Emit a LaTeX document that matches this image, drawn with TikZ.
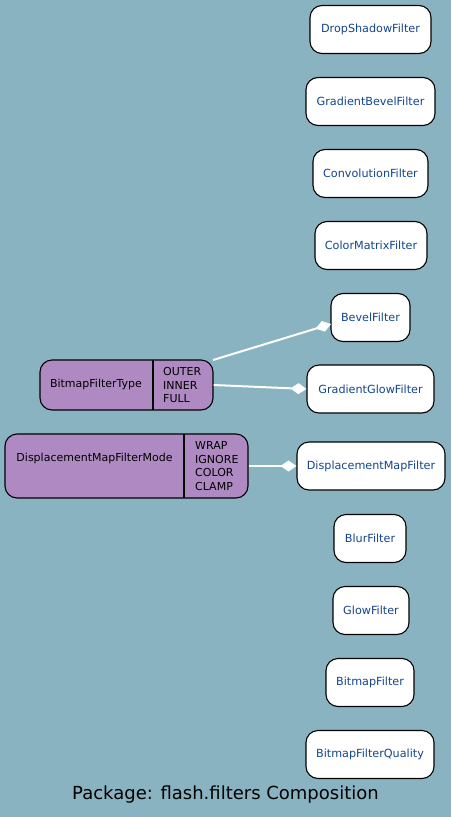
\documentclass[tikz,border=0pt]{standalone}
\usepackage{fontspec}
\setmainfont{DejaVu Sans}
\usetikzlibrary{arrows.meta}
\definecolor{bg}{RGB}{138,179,193}
\definecolor{purp}{RGB}{175,138,194}
\definecolor{lbl}{RGB}{20,70,140}
\tikzset{
  cls/.style={draw=black, line width=1.1pt, fill=white, rounded corners=12pt, minimum height=48pt, inner sep=0pt, text=lbl, font=\fontsize{11.2}{13}\selectfont},
  enm/.style={draw=black, line width=1.1pt, fill=purp, rounded corners=12pt, inner sep=0pt},
  etxt/.style={font=\fontsize{11}{13.5}\selectfont, text=black, align=left, inner sep=0pt},
  comp/.style={draw=white, line width=2pt, -{Diamond[length=16pt,width=11pt,fill=white]}},
}
\begin{document}
\begin{tikzpicture}[x=1pt,y=-1pt]
\fill[bg] (0,0) rectangle (451,817);
\useasboundingbox (0,0) rectangle (451,817);
\node[cls, minimum width=121pt] (dsf) at (370.5,29.5) {DropShadowFilter};
\node[cls, minimum width=129pt] (gbf) at (370.5,101.5) {GradientBevelFilter};
\node[cls, minimum width=115pt] (cf) at (370.5,173.5) {ConvolutionFilter};
\node[cls, minimum width=112pt] (cmf) at (371,245.5) {ColorMatrixFilter};
\node[cls, minimum width=79pt] (bf) at (370.5,317.5) {BevelFilter};
\node[cls, minimum width=127pt] (ggf) at (370.5,389) {GradientGlowFilter};
\node[cls, minimum width=148pt] (dmf) at (371,466) {DisplacementMapFilter};
\node[cls, minimum width=72pt] (blf) at (370,538.5) {BlurFilter};
\node[cls, minimum width=76pt] (glf) at (371,610.5) {GlowFilter};
\node[cls, minimum width=88pt] (bmf) at (370,682.5) {BitmapFilter};
\node[cls, minimum width=128pt] (bfq) at (370,754.5) {BitmapFilterQuality};
% BitmapFilterType
\node[enm, minimum width=173pt, minimum height=50pt] (bft) at (126.5,385) {};
\draw[line width=1.1pt] (153,360) -- (153,410);
\node[etxt, anchor=center] (bftn) at (96,384) {BitmapFilterType};
\node[etxt, anchor=west] (bftv) at (163,385) {OUTER\\INNER\\FULL};
% DisplacementMapFilterMode
\node[enm, minimum width=243pt, minimum height=64pt] (dmfm) at (126.5,466) {};
\draw[line width=1.1pt] (184,434) -- (184,498);
\node[etxt, anchor=center] (dmfmn) at (94.5,458) {DisplacementMapFilterMode};
\node[etxt, anchor=west] (dmfmv) at (195,466) {WRAP\\IGNORE\\COLOR\\CLAMP};
% edges
\coordinate (s1) at (213,360);
\coordinate (t1) at (331,324);
\draw[comp] (s1) -- (t1);
\draw[comp] (bft.east) -- (ggf.west);
\draw[comp] (dmfm.east) -- (dmf.west);
\node[font=\fontsize{18}{20}\selectfont] (title) at (225.5,795) {Package: flash.filters Composition};
\end{tikzpicture}
\end{document}
